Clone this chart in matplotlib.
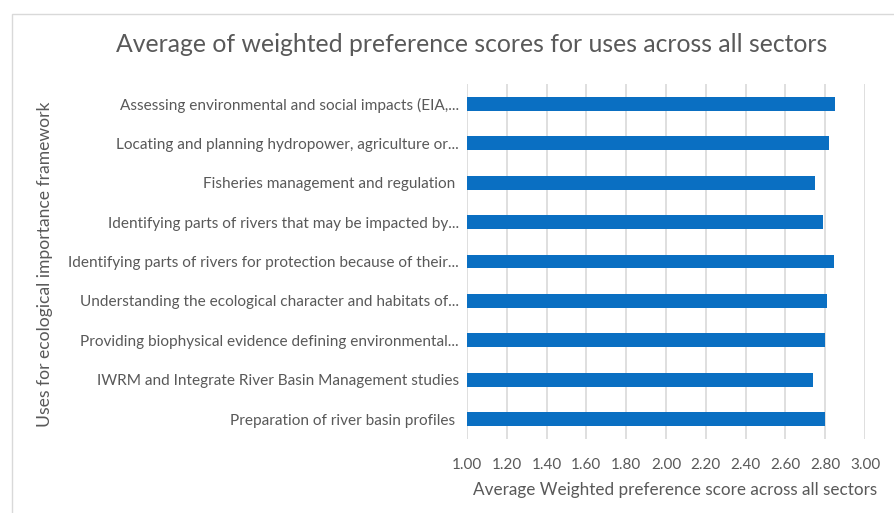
import matplotlib
matplotlib.use("Agg")
import matplotlib.pyplot as plt
from matplotlib.patches import Rectangle

categories = [
    "Assessing environmental and social impacts (EIA,...",
    "Locating and planning hydropower, agriculture or...",
    "Fisheries management and regulation ",
    "Identifying parts of rivers that may be impacted by...",
    "Identifying parts of rivers for protection because of their...",
    "Understanding the ecological character and habitats of...",
    "Providing biophysical evidence defining environmental...",
    "IWRM and Integrate River Basin Management studies",
    "Preparation of river basin profiles ",
]
scores = [2.85, 2.82, 2.75, 2.79, 2.845, 2.81, 2.80, 2.74, 2.80]
xticks = [1.00, 1.20, 1.40, 1.60, 1.80, 2.00, 2.20, 2.40, 2.60, 2.80, 3.00]

plt.rcParams['font.family'] = ['Lato', 'DejaVu Sans']
gray = '#595959'

fig = plt.figure(figsize=(8.94, 5.13), dpi=100)
fig.patches.append(Rectangle((12/894, -0.05), 1.1, 1 - 14/513 + 0.05,
                             transform=fig.transFigure, fill=False,
                             edgecolor='#d9d9d9', linewidth=1.0))
ax = fig.add_axes([467/894, 1 - 439/513, 398/894, 355/513])

y = list(range(len(categories)))
ax.barh(y, [s - 1.0 for s in scores], left=1.0, height=0.35, color='#0a6fc2', zorder=3)
ax.set_ylim(len(categories) - 0.5, -0.5)
ax.set_xlim(1.0, 3.0)
ax.set_xticks(xticks)
ax.set_xticklabels([f"{t:.2f}" for t in xticks], fontsize=11, color=gray)
ax.set_yticks(y)
ax.set_yticklabels(categories, fontsize=11.1, color=gray)
ax.tick_params(axis='y', length=0, pad=6)
ax.tick_params(axis='x', length=0, pad=14)
ax.grid(axis='x', color='#d9d9d9', linewidth=1.2, zorder=0)
for s in ax.spines.values():
    s.set_visible(False)
fig.text(675/894, 1 - 490/513, "Average Weighted preference score across all sectors",
         ha='center', va='center', fontsize=12.3, color=gray)
fig.text(45/894, 1 - 264/513, "Uses for ecological importance framework", rotation=90,
         ha='center', va='center', fontsize=12.6, color=gray)
fig.text(472/894, 1 - 45/513, "Average of weighted preference scores for uses across all sectors",
         ha='center', va='center', fontsize=17.8, color=gray)

fig.savefig("out.png", dpi=100)
